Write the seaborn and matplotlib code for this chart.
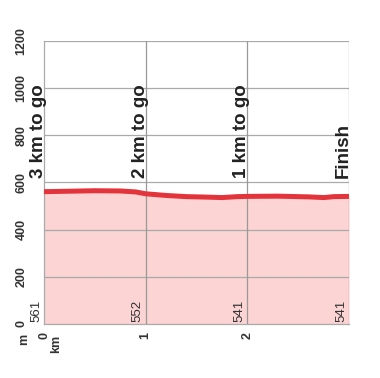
import numpy as np
import pandas as pd
import seaborn as sns
import matplotlib.pyplot as plt

# profile
km = [0, 0.25, 0.5, 0.75, 0.9, 1.0, 1.2, 1.4, 1.6, 1.75, 1.9, 2.0, 2.3, 2.6, 2.75, 2.85, 3.0]
elev = [561, 563, 565, 564, 560, 552, 545, 540, 538, 536, 540, 541, 542, 539, 536, 540, 541]

marker_km = [0, 1, 2, 3]
marker_names = ["3 km to go", "2 km to go", "1 km to go", "Finish"]
marker_elev = ["561", "552", "541", "541"]

y_ticks = [0, 200, 400, 600, 800, 1000, 1200]
x_ticks = [0, 1, 2]

data = pd.DataFrame({"km": km, "elev": elev})

sns.set_style("white")
plt.rcParams['font.family'] = ['Liberation Sans', 'DejaVu Sans']

fig = plt.figure(figsize=(3.8, 3.78), dpi=100)
ax = fig.add_axes([0.1158, 0.1429, 0.803, 0.7487])

ax.fill_between(data.km, data.elev, 0, color='#fcd4d4', lw=0, zorder=1)
sns.lineplot(data=data, x="km", y="elev", ax=ax, color='#e3343b', lw=3.6,
             solid_capstyle='round', zorder=4)

ax.set_xlim(0, 3.0)
ax.set_ylim(0, 1200)
ax.set_yticks(y_ticks)
ax.set_yticklabels([str(v) for v in y_ticks], rotation=90, va='center',
                   fontsize=9, fontweight='bold', color='#333333')
ax.set_xticks(x_ticks)
ax.set_xticklabels([str(v) for v in x_ticks], rotation=90, va='top',
                   fontsize=9, fontweight='bold', color='#333333')
ax.tick_params(axis='y', length=0, pad=12)
ax.tick_params(axis='x', length=0, pad=6)
ax.set_xlabel("")
ax.set_ylabel("")

for v in y_ticks[1:]:
    ax.axhline(v, color='#aaaaaa', lw=0.9, zorder=2)
for k in marker_km[1:]:
    ax.axvline(k, color='#999999', lw=0.9, zorder=3)

for s in ['top', 'right']:
    ax.spines[s].set_visible(False)
for s in ['left', 'bottom']:
    ax.spines[s].set_color('#aaaaaa')
    ax.spines[s].set_linewidth(0.9)

for k, name, e in zip(marker_km, marker_names, marker_elev):
    ax.text(k + 0.03, 620, name, rotation=90, ha='right', va='bottom',
            fontsize=13.5, fontweight='bold', color='#222222', zorder=5)
    ax.text(k - 0.02, 8, e, rotation=90, ha='right', va='bottom',
            fontsize=9.5, color='#333333', zorder=5)

ax.text(-0.2, -40, "m", rotation=90, ha='center', va='top',
        fontsize=9, fontweight='bold', color='#333333', clip_on=False)
ax.text(0.115, -45, "km", rotation=90, ha='center', va='top',
        fontsize=9, fontweight='bold', color='#333333', clip_on=False)

plt.savefig("out.png", dpi=100)
